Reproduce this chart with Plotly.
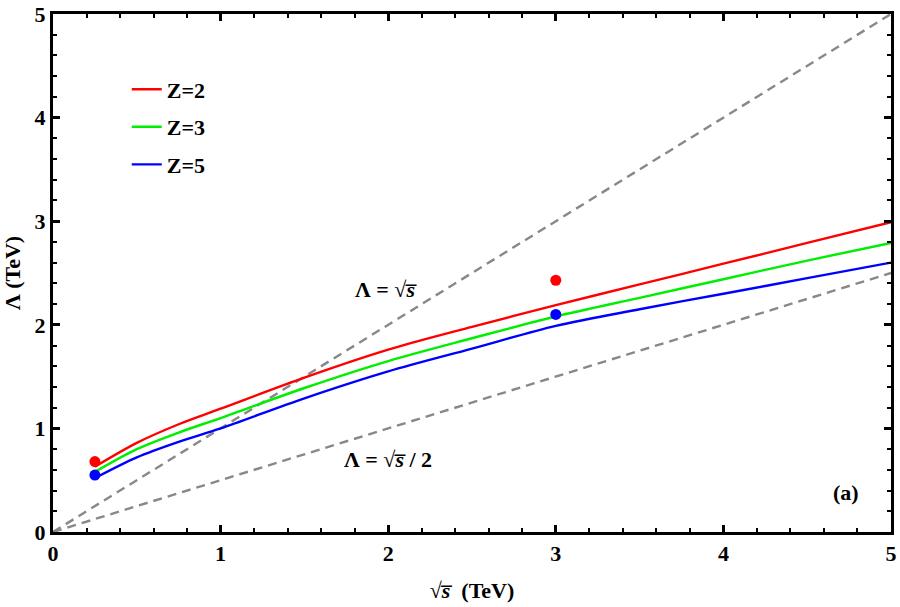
import plotly.graph_objects as go

# data
x_vals = [0.25, 0.5, 0.75, 1.0, 1.5, 2.0, 2.5, 3.0, 3.5, 4.0, 4.5, 5.0]
z2_vals = [0.63, 0.86, 1.04, 1.19, 1.49, 1.76, 1.98, 2.19, 2.39, 2.59, 2.79, 2.99]
z3_vals = [0.58, 0.80, 0.96, 1.10, 1.39, 1.65, 1.87, 2.08, 2.26, 2.44, 2.62, 2.79]
z5_vals = [0.52, 0.72, 0.87, 1.00, 1.29, 1.55, 1.77, 1.99, 2.15, 2.30, 2.45, 2.60]
diag_x = [0, 5]
diag_full = [0, 5]
diag_half = [0, 2.5]
red_pts_x = [0.25, 3.0]
red_pts_y = [0.68, 2.43]
blue_pts_x = [0.25, 3.0]
blue_pts_y = [0.55, 2.10]
tick_vals = [0, 1, 2, 3, 4, 5]

FONT = "Times New Roman, Liberation Serif, serif"

fig = go.Figure()
fig.add_trace(go.Scatter(x=diag_x, y=diag_full, mode="lines", showlegend=False,
                         line=dict(color="#888888", width=2.4, dash="9px,6px")))
fig.add_trace(go.Scatter(x=diag_x, y=diag_half, mode="lines", showlegend=False,
                         line=dict(color="#888888", width=2.4, dash="9px,6px")))
for name, ys, col, grp in [("Z=2", z2_vals, "#ff0000", "a"),
                           ("Z=3", z3_vals, "#00ee00", "b"),
                           ("Z=5", z5_vals, "#0000ff", "c")]:
    fig.add_trace(go.Scatter(x=x_vals, y=ys, mode="lines", name=name, legendgroup=grp,
                             line=dict(color=col, width=2.4, shape="spline", smoothing=0.9)))
fig.add_trace(go.Scatter(x=red_pts_x, y=red_pts_y, mode="markers", showlegend=False,
                         marker=dict(color="#ff0000", size=11)))
fig.add_trace(go.Scatter(x=blue_pts_x, y=blue_pts_y, mode="markers", showlegend=False,
                         marker=dict(color="#0000ff", size=11)))

tfont = dict(family=FONT, size=22, color="black", weight="bold")
axis_common = dict(range=[0, 5], tickvals=tick_vals, ticks="inside", ticklen=7, tickwidth=2.5,
                   tickcolor="black", showline=True, linecolor="black", linewidth=3,
                   mirror="allticks", showgrid=False, zeroline=False, automargin=False,
                   tickfont=tfont,
                   minor=dict(dtick=0.2, ticks="inside", ticklen=4, tickwidth=2, tickcolor="black"))

fig.update_layout(
    width=900, height=607,
    margin=dict(l=53, r=9, t=14, b=75),
    paper_bgcolor="white", plot_bgcolor="white",
    font=dict(family=FONT, color="black"),
    xaxis=dict(**axis_common,
               title=dict(text="√<i>s̅</i>  (TeV)", standoff=18, font=tfont)),
    yaxis=dict(**axis_common,
               title=dict(text="Λ (TeV)", standoff=14, font=tfont)),
    legend=dict(x=0.088, y=0.895, xanchor="left", yanchor="top", bgcolor="rgba(0,0,0,0)",
                tracegroupgap=6, itemwidth=30, font=tfont),
    annotations=[
        dict(x=1.99, y=2.34, text="Λ = √<i>s̅</i>", showarrow=False, font=tfont),
        dict(x=2.0, y=0.70, text="Λ = √<i>s̅</i> / 2", showarrow=False, font=tfont),
        dict(x=4.73, y=0.38, text="(a)", showarrow=False, font=tfont),
    ],
)

fig.write_html("out.html")
